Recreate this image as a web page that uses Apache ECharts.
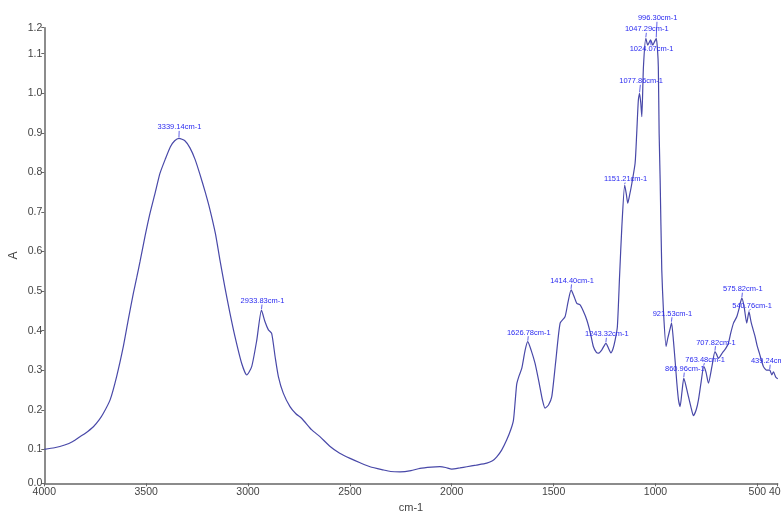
<!DOCTYPE html>
<html>
<head>
<meta charset="utf-8">
<script src="https://cdn.jsdelivr.net/npm/echarts@6/dist/echarts.min.js"></script>
<style>
  html,body{margin:0;padding:0;background:#fff;}
  #ftir-chart{width:781px;height:512px;}
</style>
</head>
<body>
<div id="ftir-chart"></div>
<script>
  // spectrum: wavenumber (cm-1) and absorbance
  let wavenumber = [4000,3950,3900,3860,3825,3800,3759,3730,3710,3677,3645,3612,3588,3563,3546,3530,3505,3481,3455,3432,3405,3381,3360,3339,3310,3285,3260,3236,3210,3187,3160,3138,3113,3089,3064,3031,3006,2982,2957,2934,2917,2900,2884,2867,2851,2827,2794,2765,2736,2687,2647,2597,2550,2499,2450,2401,2337,2300,2254,2200,2156,2100,2058,2030,2000,1960,1926,1880,1828,1800,1779,1755,1730,1710,1697,1688,1681,1670,1656,1640,1627,1610,1591,1570,1555,1542,1525,1509,1490,1468,1444,1430,1414,1400,1386,1370,1355,1337,1320,1305,1290,1280,1264,1243,1230,1219,1208,1198,1187,1176,1165,1151,1143,1136,1126,1116,1100,1092,1084,1078,1072,1067,1059,1047,1038,1024,1013,1005,996,990,986,982,977,969,961,948,940,928,921,912,903,895,887,879,870,861,850,838,825,814,800,789,776,763,752,740,723,708,700,691,670,655,642,630,617,601,590,584,576,565,552,541,530,511,500,490,470,455,439,429,421,410,404,400]
  let absorbance = [0.100,0.104,0.111,0.120,0.132,0.140,0.157,0.175,0.191,0.225,0.284,0.360,0.427,0.494,0.535,0.575,0.640,0.697,0.750,0.798,0.835,0.865,0.880,0.886,0.880,0.862,0.833,0.795,0.750,0.706,0.645,0.579,0.508,0.445,0.385,0.317,0.288,0.309,0.376,0.452,0.423,0.402,0.393,0.334,0.284,0.242,0.208,0.190,0.178,0.149,0.132,0.107,0.090,0.077,0.066,0.056,0.048,0.044,0.043,0.046,0.052,0.055,0.056,0.054,0.050,0.053,0.056,0.060,0.065,0.071,0.081,0.098,0.124,0.150,0.174,0.225,0.265,0.285,0.305,0.350,0.372,0.350,0.317,0.265,0.225,0.204,0.212,0.233,0.320,0.419,0.435,0.470,0.503,0.487,0.469,0.465,0.450,0.427,0.395,0.360,0.345,0.343,0.351,0.368,0.355,0.344,0.355,0.376,0.410,0.540,0.663,0.768,0.745,0.722,0.745,0.772,0.823,0.899,0.983,1.000,0.975,0.941,1.067,1.139,1.122,1.135,1.122,1.130,1.139,1.110,1.067,0.899,0.781,0.553,0.452,0.360,0.380,0.405,0.420,0.376,0.320,0.267,0.225,0.208,0.245,0.280,0.260,0.233,0.205,0.185,0.200,0.225,0.270,0.309,0.295,0.267,0.309,0.347,0.340,0.330,0.345,0.355,0.368,0.395,0.419,0.435,0.455,0.469,0.482,0.461,0.419,0.448,0.420,0.385,0.360,0.343,0.309,0.300,0.300,0.288,0.296,0.283,0.280,0.278]

  // labelled peaks
  let peakWn = [3339.14,2933.83,1626.78,1414.40,1243.32,1151.21,1077.86,1047.29,1024.07,996.30,921.53,860.96,763.48,707.82,575.82,540.76,439.24]
  let peakA = [0.886,0.452,0.372,0.503,0.368,0.768,1.000,1.139,1.135,1.139,0.420,0.280,0.309,0.347,0.482,0.448,0.300]

  // axis ends
  let xMin = 400, xMax = 4000
  let yMin = 0.0141, yMax = 1.1658

  let chart = echarts.init(document.getElementById('ftir-chart'))

  let lineData = wavenumber.map(function(w, i){ return [w, absorbance[i]] })
  let peakData = peakWn.map(function(w, i){ return [w, peakA[i], w.toFixed(2) + 'cm-1'] })

  // where each peak label sits relative to its peak (px)
  let labelShift = {
    '996.30': [1.5, -20],
    '1024.07': [1, 9],
    '1151.21': [1, -6],
    '1077.86': [1.5, -12],
    '3339.14': [0.5, -11],
    '540.76': [3, -6],
    '763.48': [1.5, -7]
  }

  let axisFont = 'Liberation Sans Narrow, Arial Narrow, Liberation Sans, sans-serif'

  let option = {
    animation: false,
    grid: {
      left: 44.3,
      right: 3.3,
      top: 27.7,
      bottom: 28.7,
      containLabel: false,
      outerBoundsMode: 'none'
    },
    xAxis: {
      type: 'value',
      min: xMin,
      max: xMax,
      inverse: true,
      splitNumber: 7,
      name: 'cm-1',
      nameLocation: 'middle',
      nameGap: 19,
      nameMoveOverlap: false,
      nameTextStyle: { color: '#444', fontSize: 11, fontFamily: axisFont },
      axisLine: { show: true, lineStyle: { color: '#666', width: 1.5 } },
      axisTick: { show: true, length: 3, lineStyle: { color: '#666' } },
      axisLabel: {
        color: '#444',
        fontSize: 10.5,
        fontFamily: axisFont,
        margin: 3,
        showMinLabel: true,
        showMaxLabel: true,
        formatter: function(v){ return String(Math.round(v)) }
      },
      splitLine: { show: false }
    },
    yAxis: {
      type: 'value',
      min: yMin,
      max: yMax,
      splitNumber: 12,
      name: 'A',
      nameLocation: 'middle',
      nameGap: 25,
      nameMoveOverlap: false,
      nameTextStyle: { color: '#444', fontSize: 12, fontFamily: 'Liberation Sans, sans-serif' },
      axisLine: { show: true, lineStyle: { color: '#666', width: 1.5 } },
      axisTick: { show: true, length: 3, lineStyle: { color: '#666' } },
      axisLabel: {
        color: '#444',
        fontSize: 10.5,
        fontFamily: axisFont,
        margin: 2,
        showMinLabel: true,
        showMaxLabel: true,
        formatter: function(v){ return v.toFixed(1) }
      },
      splitLine: { show: false }
    },
    series: [
      {
        type: 'line',
        data: lineData,
        showSymbol: false,
        smooth: 0.2,
        lineStyle: { color: '#4848a8', width: 1.2 },
        z: 2
      },
      {
        type: 'custom',
        data: peakData,
        z: 3,
        renderItem: function(params, api){
          let p = api.coord([api.value(0), api.value(1)])
          let key = api.value(0).toFixed(2)
          let s = labelShift[key] || [1, -9]
          let tx = p[0] + s[0], ty = p[1] + s[1]
          let y1, y2
          if (s[1] > 0) { y1 = p[1] + 1; y2 = ty - 3.5 }
          else { y1 = p[1] - 1; y2 = ty + 3.5 }
          return {
            type: 'group',
            children: [
              {
                type: 'line',
                shape: { x1: p[0], y1: y1, x2: p[0] + s[0] * 0.5, y2: y2 },
                style: { stroke: '#3a3ae0', lineWidth: 0.8 }
              },
              {
                type: 'text',
                x: tx,
                y: ty,
                style: {
                  text: peakData[params.dataIndex][2],
                  fill: '#2a2af0',
                  font: '7.5px ' + axisFont,
                  align: 'center',
                  verticalAlign: 'middle'
                }
              }
            ]
          }
        }
      }
    ]
  }
  chart.setOption(option)
</script>
</body>
</html>
